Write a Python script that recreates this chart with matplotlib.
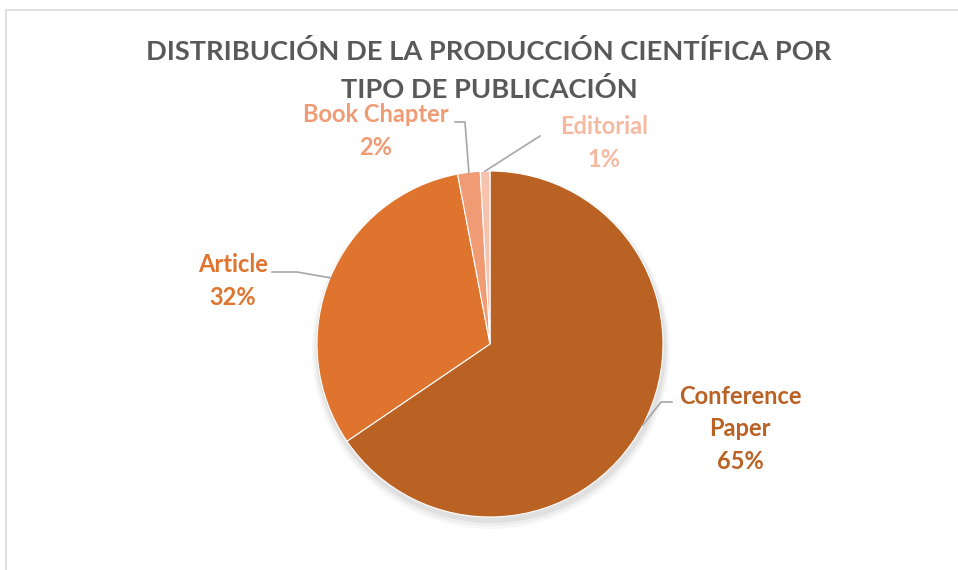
import matplotlib.pyplot as plt
from matplotlib.patches import Rectangle
import numpy as np

labels = ['Conference\nPaper', 'Article', 'Book Chapter', 'Editorial']
shares = [65.5, 31.5, 2.1, 0.9]
pct_text = ['65%', '32%', '2%', '1%']
colors = ['#BA6124', '#DE742D', '#F09B74', '#F7C3AE']
label_colors = ['#BA6124', '#DE742D', '#F09B74', '#F5B9A1']

W, H = 958, 570
fig = plt.figure(figsize=(W / 100, H / 100), dpi=100)
ax = fig.add_axes([0, 0, 1, 1])
ax.set_xlim(0, W)
ax.set_ylim(0, H)
ax.set_aspect('equal')
ax.axis('off')

# chart frame (only left and top visible in the reference)
ax.add_patch(Rectangle((6, -20), W + 20, H - 10 + 20, fill=False,
                       edgecolor='#D9D9D9', linewidth=1.2))

cx, cy, r = 490, H - 344, 173

# soft shadow
for k, a in enumerate([0.05, 0.04, 0.03]):
    ax.pie([1], colors=['#000000'], radius=r + 2 + k * 2,
           center=(cx + 1, cy - 4 - k), wedgeprops=dict(alpha=a, linewidth=0))

wedges, _ = ax.pie(shares, colors=colors, startangle=90, counterclock=False,
                   radius=r, center=(cx, cy),
                   wedgeprops=dict(linewidth=0.8, edgecolor='white'))
ax.set_xlim(0, W)
ax.set_ylim(0, H)

font = 'Lato'
ax.text(W / 2 + 10, H - 51, 'DISTRIBUCIÓN DE LA PRODUCCIÓN CIENTÍFICA POR',
        ha='center', va='center', fontsize=19.6, fontweight='bold',
        color='#595959', family=font)
ax.text(W / 2 + 10, H - 90, 'TIPO DE PUBLICACIÓN',
        ha='center', va='center', fontsize=19.6, fontweight='bold',
        color='#595959', family=font)

# label text positions (pixels from top) and leader line elbows
label_pos = [(740, 429), (233, 281), (376, 131), (604, 143)]
elbows = [[(672, 402), (661, 402)], [(272, 272), (297, 272)],
          [(455, 122), (465, 122)], [(540, 136)]]

for w, lab, pct, col, (lx, ly), elb in zip(wedges, labels, pct_text,
                                           label_colors, label_pos, elbows):
    ax.text(lx, H - ly, lab + '\n' + pct, ha='center', va='center',
            fontsize=17, fontweight='bold', color=col, family=font,
            linespacing=1.5)
    mid = np.deg2rad((w.theta1 + w.theta2) / 2)
    ex, ey = cx + r * np.cos(mid), cy + r * np.sin(mid)
    pts = [(x, H - y) for x, y in elb] + [(ex, ey)]
    xs, ys = zip(*pts)
    ax.plot(xs, ys, color='#A6A6A6', linewidth=1.2)

fig.savefig('out.png', dpi=100)
